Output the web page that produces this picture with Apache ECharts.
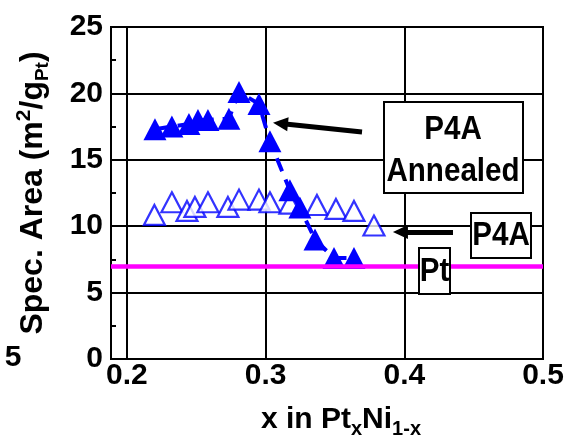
<!DOCTYPE html>
<html>
<head>
<meta charset="utf-8">
<script src="https://cdn.jsdelivr.net/npm/echarts@6/dist/echarts.min.js"></script>
<style>
  html, body { margin: 0; padding: 0; background: #fff; }
  #chart { width: 564px; height: 439px; }
</style>
</head>
<body>
<div id="chart"></div>
<script>
// Specific surface area vs. Pt fraction x in PtxNi1-x
const xTicks = [0.2, 0.3, 0.4, 0.5];

// P4A Annealed (filled triangles, dashed line)
const annealedX = [0.2202, 0.2324, 0.2447, 0.2512, 0.2584, 0.2735, 0.2808, 0.2952, 0.3031, 0.3175, 0.3247, 0.3356, 0.3493, 0.3637];
const annealedY = [17.3, 17.5, 17.7, 18.0, 18.0, 18.1, 20.1, 19.2, 16.4, 12.7, 11.4, 9.0, 7.6, 7.6];

// P4A (open triangles)
const p4aX = [0.2198, 0.2324, 0.2433, 0.2490, 0.2584, 0.2728, 0.2808, 0.2952, 0.3031, 0.3175, 0.3370, 0.3507, 0.3637, 0.3781];
const p4aY = [10.85, 11.8, 11.15, 11.45, 11.8, 11.45, 12.0, 12.0, 11.8, 11.7, 11.6, 11.3, 11.15, 10.05];

// Pt reference level
const ptLevel = 7;

// Callout arrows: [tail, head] in data coordinates
const arrowAnnealed = [[0.3695, 17.1], [0.3107, 17.73]];
const arrowP4A = [[0.4351, 9.57], [0.3972, 9.57]];

const FONT = "'Liberation Sans', Arial, sans-serif";
const BLUE = '#0000ff';

const zip = (xs, ys) => xs.map((x, i) => [x, ys[i]]);

const chart = echarts.init(document.getElementById('chart'), null, { renderer: 'canvas' });

const boxText = (x, y, text) => ({
  type: 'text', x: x, y: y, scaleX: 0.87, z: 101,
  style: { text: text, font: 'bold 34px ' + FONT, fill: '#000', textAlign: 'center', textVerticalAlign: 'middle' }
});
const box = (x, y, w, h) => ({
  type: 'rect', z: 100,
  shape: { x: x, y: y, width: w, height: h },
  style: { fill: '#fff', stroke: '#000', lineWidth: 2 }
});

const arrowLine = (pair) => [
  { coord: pair[0], symbol: 'none' },
  { coord: pair[1], symbol: 'triangle', symbolSize: [14, 15] }
];

chart.setOption({
  animation: false,
  backgroundColor: '#fff',
  grid: {
    left: 111, right: 21, top: 27, bottom: 80,
    outerBoundsMode: 'none', containLabel: false,
    show: true, borderColor: '#000', borderWidth: 2
  },
  xAxis: {
    type: 'value', min: 0.1885, max: 0.5,
    name: '{b|x in Pt}{s|x}{b|Ni}{s|1-x}',
    nameLocation: 'middle', nameGap: 42,
    nameTextStyle: {
      padding: [0, 0, 0, 28],
      rich: {
        b: { fontFamily: FONT, fontWeight: 'bold', fontSize: 30, color: '#000' },
        s: { fontFamily: FONT, fontWeight: 'bold', fontSize: 20, color: '#000', padding: [18, 0, 0, 0] }
      }
    },
    axisLine: { show: true, lineStyle: { color: '#000', width: 2 } },
    axisTick: { show: true, inside: true, length: 5, customValues: xTicks, lineStyle: { color: '#000', width: 2 } },
    axisLabel: { customValues: xTicks, margin: 2, fontFamily: FONT, fontWeight: 'bold', fontSize: 30, color: '#000',
                 formatter: v => v.toFixed(1) },
    splitLine: { show: true, lineStyle: { color: '#000', width: 2 } }
  },
  yAxis: {
    type: 'value', min: 0, max: 25, interval: 5,
    name: '{b|Spec. Area (m}{sup|2}{b|/g}{sub|Pt}{b|)}',
    nameLocation: 'middle', nameRotate: 90, nameGap: 59,
    nameTextStyle: {
      rich: {
        b: { fontFamily: FONT, fontWeight: 'bold', fontSize: 32, color: '#000' },
        sup: { fontFamily: FONT, fontWeight: 'bold', fontSize: 21, color: '#000', padding: [0, 0, 17, 0] },
        sub: { fontFamily: FONT, fontWeight: 'bold', fontSize: 19, color: '#000', padding: [19, 0, 0, 0] }
      }
    },
    axisLine: { show: true, lineStyle: { color: '#000', width: 2 } },
    axisTick: { show: true, inside: true, length: 5, lineStyle: { color: '#000', width: 2 } },
    minorTick: { show: true, splitNumber: 2, length: 5, lineStyle: { color: '#000', width: 2 } },
    axisLabel: { margin: 8, fontFamily: FONT, fontWeight: 'bold', fontSize: 30, color: '#000' },
    splitLine: { show: true, lineStyle: { color: '#000', width: 2 } }
  },
  series: [
    {
      name: 'Pt', type: 'line', data: [], z: 1,
      markLine: {
        silent: true, symbol: 'none', label: { show: false },
        lineStyle: { color: '#ff00ff', width: 4.5, type: 'solid' },
        data: [{ yAxis: ptLevel }]
      }
    },
    {
      name: 'P4A', type: 'scatter', z: 2,
      symbol: 'triangle', symbolSize: [21, 20],
      itemStyle: { color: '#fff', borderColor: BLUE, borderWidth: 2.2 },
      data: zip(p4aX, p4aY)
    },
    {
      name: 'P4A Annealed', type: 'line', z: 3,
      symbol: 'triangle', symbolSize: [23, 22], showSymbol: true,
      itemStyle: { color: BLUE },
      lineStyle: { color: BLUE, width: 4, type: [14, 9] },
      data: zip(annealedX, annealedY)
    },
    {
      name: 'callouts', type: 'line', data: [], z: 4,
      markLine: {
        silent: true, label: { show: false },
        lineStyle: { color: '#000', width: 5, type: 'solid' },
        itemStyle: { color: '#000' },
        data: [arrowLine(arrowAnnealed), arrowLine(arrowP4A)]
      }
    }
  ],
  graphic: [
    box(384, 102, 139, 91), boxText(453, 130, 'P4A'), boxText(453, 172, 'Annealed'),
    box(471, 213, 60, 45), boxText(501, 236, 'P4A'),
    box(419, 248, 31, 46), boxText(434.5, 272, 'Pt'),
    { type: 'text', x: 13, y: 358, z: 101,
      style: { text: '5', font: 'bold 30px ' + FONT, fill: '#000', textAlign: 'center', textVerticalAlign: 'middle' } }
  ]
});
</script>
</body>
</html>
